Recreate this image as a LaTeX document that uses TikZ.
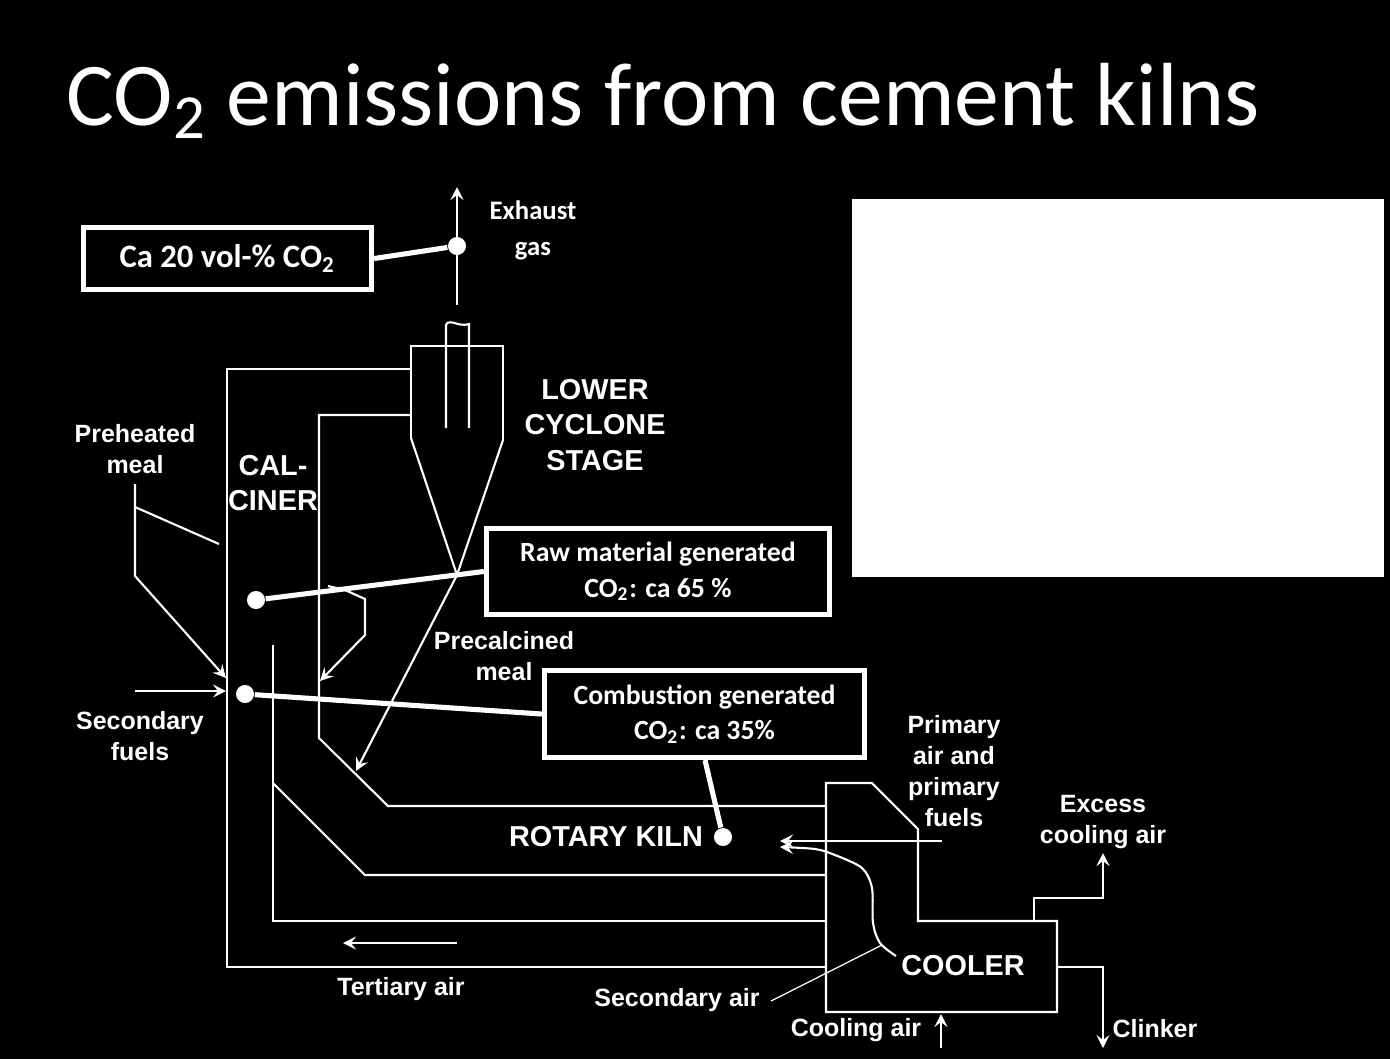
\documentclass[tikz,border=0pt]{standalone}
\usepackage{fontspec}
\setmainfont{Liberation Sans}
\newfontfamily\slidefont{Carlito}
\usetikzlibrary{arrows.meta, positioning, calc}

\tikzset{
  plantline/.style={white, line width=0.6pt},
  thinline/.style={white, line width=0.35pt},
  callout/.style={white, line width=1.45pt},
  calloutbox/.style={draw=white, line width=1.45pt, fill=black, text=white, inner sep=0pt, align=center, font=\slidefont\bfseries\fontsize{7.9pt}{10pt}\selectfont},
  dotmark/.style={circle, fill=white, inner sep=0pt, minimum size=0.18cm},
  smalllabel/.style={text=white, inner sep=0pt, align=center, font=\bfseries\fontsize{7.1pt}{8.9pt}\selectfont},
  biglabel/.style={text=white, inner sep=0pt, align=center, font=\bfseries\fontsize{8.2pt}{10pt}\selectfont},
}

\begin{document}
\begin{tikzpicture}[x=0.01cm, y=-0.01cm, >={Stealth[length=1.3mm, width=1.3mm, inset=0.5mm]}]

% Background
\fill[black] (0,0) rectangle (1390,1059);
\fill[white] (852,199) rectangle (1384,577);

% Title
\node[text=white, inner sep=0pt, anchor=base west, font=\slidefont\fontsize{25.5pt}{30pt}\selectfont] (title) at (66,125) {CO\textsubscript{2} emissions from cement kilns};

%% Cyclone and stack
\draw[plantline, ->] (457,305) -- (457,187);
\draw[plantline] (446,428) -- (446,325) .. controls (447,321) and (452,322) .. (458,324) .. controls (462,325) and (466,325) .. (469,324) -- (469,428);
\draw[plantline] (411,438) -- (411,346) -- (503,346) -- (503,440);
\draw[plantline] (411,438) -- (457,575);
\draw[plantline, ->] (503,440) -- (457,575) -- (356,771);

%% Calciner walls and ducts
\draw[plantline] (411,369) -- (227,369) -- (227,967) -- (826,967);
\draw[plantline] (411,415) -- (319,415) -- (319,738) -- (388,806) -- (826,806);
\draw[plantline] (273,645) -- (273,921) -- (826,921);
\draw[plantline] (273,783) -- (365,875) -- (826,875);

% Meal and fuel feeds
\draw[plantline, ->] (135,484) -- (135,576) -- (226,678);
\draw[plantline] (135,507) -- (219,544);
\draw[plantline, ->] (135,691) -- (226,691);
\draw[plantline, ->] (328,586) -- (345,590) -- (365,599) -- (365,635) -- (320,681);

%% Cooler
\draw[plantline] (826,1012) -- (826,783) -- (872,783) -- (918,829) -- (918,921) -- (1057,921) -- (1057,1012) -- cycle;
\draw[plantline, ->] (1034,921) -- (1034,898) -- (1103,898) -- (1103,853);
\draw[plantline, ->] (1057,967) -- (1103,967) -- (1103,1048);
\draw[plantline, ->] (941,1048) -- (941,1014);
\draw[plantline, ->] (942,841) -- (780,841);
\draw[plantline, ->] plot[smooth] coordinates {(896,956) (880,943) (873,923) (872,888) (862,868) (835,855) (815,849) (780,847)};
\draw[thinline] (771,1001) -- (882,945);
\draw[plantline, ->] (457,943) -- (343,943);

%% Labels on the plant
\node[biglabel] (lowercyclone) at (595,425) {LOWER\\CYCLONE\\STAGE};
\node[biglabel] (calciner) at (273,483) {CAL-\\CINER};
\node[biglabel] (rotarykiln) at (606,837) {ROTARY KILN};
\node[biglabel] (cooler) at (963,966) {COOLER};
\node[smalllabel] (preheated) at (135,449) {Preheated\\meal};
\node[smalllabel] (secfuels) at (140,736) {Secondary\\fuels};
\node[smalllabel] (precalcined) at (504,656) {Precalcined\\meal};
\node[smalllabel] (primary) at (954,771) {Primary\\air and\\primary\\fuels};
\node[smalllabel] (excess) at (1103,822) {Excess\\cooling air};
\node[smalllabel] (tertiary) at (401,989) {Tertiary air};
\node[smalllabel] (secair) at (677,1000) {Secondary air};
\node[smalllabel] (coolingair) at (856,1030) {Cooling air};
\node[smalllabel] (clinker) at (1155,1029) {Clinker};
\node[calloutbox, draw=none, fill=none, font=\slidefont\bfseries\fontsize{7.6pt}{10.2pt}\selectfont] (exhaust) at (533,230) {Exhaust\\gas};

%% Callouts
\node[dotmark] (exhaustdot) at (457,246) {};
\node[dotmark] (rawdot) at (256,600) {};
\node[dotmark] (combdot) at (245,694) {};
\node[dotmark] (kilndot) at (723,837) {};

\node[calloutbox, minimum width=2.88cm, minimum height=0.62cm, font=\slidefont\bfseries\fontsize{9.3pt}{11pt}\selectfont] (volbox) at (227.5,258.5) {Ca 20 vol-\% CO\textsubscript{2}};
\node[calloutbox, minimum width=3.43cm, minimum height=0.86cm] (rawbox) at (658,571.5) {Raw material generated\\CO\textsubscript{2}: ca 65 \%};
\node[calloutbox, minimum width=3.20cm, minimum height=0.87cm] (combbox) at (704.5,714) {Combustion generated\\CO\textsubscript{2}: ca 35\%};

\draw[callout] (volbox.east) -- (exhaustdot);
\draw[callout] (rawbox.west) -- (rawdot);
\draw[callout] (combbox.west) -- (combdot);
\draw[callout] (combbox.south -| 705,0) -- (kilndot);

\end{tikzpicture}
\end{document}
